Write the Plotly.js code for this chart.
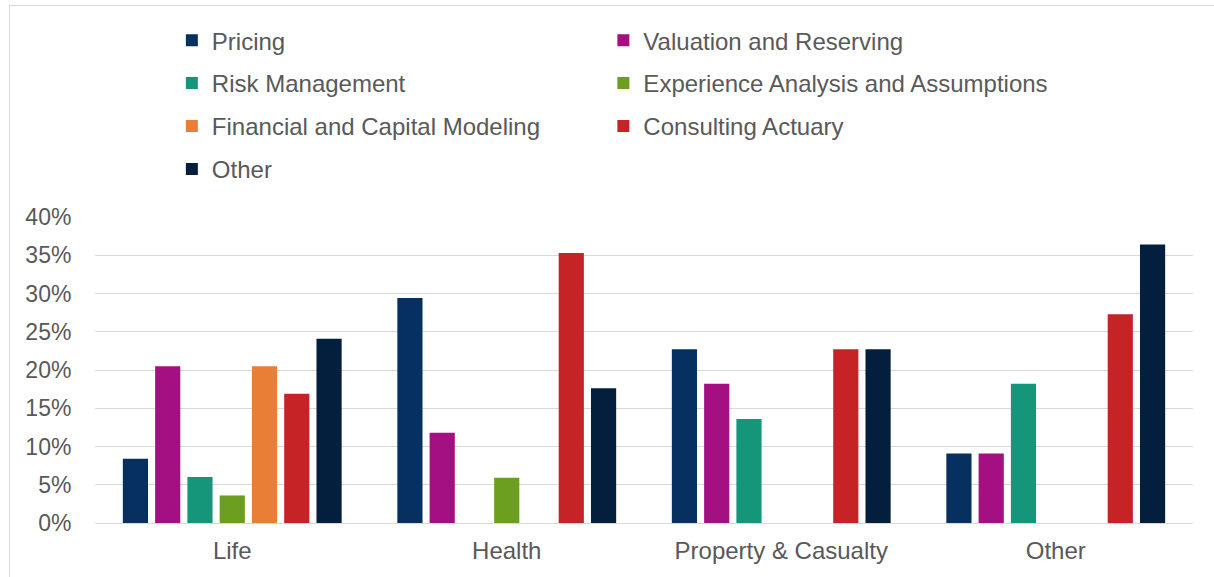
<!DOCTYPE html>
<html>
<head>
<meta charset="utf-8">
<script src="https://cdn.plot.ly/plotly-3.0.1.min.js"></script>
<style>
  html, body { margin: 0; padding: 0; background: #fff; }
  #wrap { position: relative; width: 1214px; height: 577px; overflow: hidden; }
  #chart { position: absolute; left: 0; top: 0; width: 1214px; height: 577px; }
  #frame { position: absolute; left: 9px; top: 5px; width: 1300px; height: 700px;
           border-left: 1px solid #d9d9d9; border-top: 1px solid #d9d9d9; pointer-events: none; }
</style>
</head>
<body>
<div id="wrap"><div id="chart"></div><div id="frame"></div></div>
<script>
const categories = ["Life", "Health", "Property & Casualty", "Other"];
const seriesNames = ["Pricing", "Valuation and Reserving", "Risk Management",
  "Experience Analysis and Assumptions", "Financial and Capital Modeling",
  "Consulting Actuary", "Other"];
const pricing     = [0.084, 0.294, 0.227, 0.091];
const valuation   = [0.205, 0.118, 0.182, 0.091];
const riskMgmt    = [0.060, null, 0.136, 0.182];
const experience  = [0.036, 0.059, null, null];
const financial   = [0.205, null, null, null];
const consulting  = [0.169, 0.353, 0.227, 0.273];
const otherRole   = [0.241, 0.176, 0.227, 0.364];
const colors = ["#06305f", "#a40f82", "#15967b", "#6c9e20", "#e97e37", "#c62326", "#041f3d"];
const legendOf = ["legend", "legend2", "legend", "legend2", "legend", "legend2", "legend"];

const values = [pricing, valuation, riskMgmt, experience, financial, consulting, otherRole];
const traces = seriesNames.map((name, i) => ({
  type: "bar", name: name, x: categories, y: values[i],
  marker: { color: colors[i], line: { width: 0 } },
  legend: legendOf[i], legendgroup: "g" + i,
  hovertemplate: "%{x}<br>" + name + ": %{y:.1%}<extra></extra>"
}));

const font = { family: "Liberation Sans, Arial, sans-serif", size: 24, color: "#595959" };
const yfont = { family: "Liberation Sans, Arial, sans-serif", size: 23, color: "#595959" };
const legendBase = {
  orientation: "v", font: font, bgcolor: "rgba(0,0,0,0)", tracegroupgap: 8.7,
  yanchor: "top", xanchor: "left", traceorder: "grouped", itemclick: false
};

const layout = {
  width: 1214, height: 577,
  margin: { l: 95, r: 21, t: 217, b: 54 },
  paper_bgcolor: "#fff", plot_bgcolor: "#fff",
  font: font,
  barmode: "group", bargap: 0.177, bargroupgap: 0.22,
  showlegend: true,
  legend: Object.assign({}, legendBase, { x: 0.070, y: 1.65 }),
  legend2: Object.assign({}, legendBase, { x: 0.463, y: 1.65 }),
  xaxis: {
    type: "category", showgrid: false, zeroline: false, showline: false,
    ticks: "outside", ticklen: 6, tickcolor: "rgba(0,0,0,0)",
    tickfont: font, fixedrange: true
  },
  yaxis: {
    range: [0, 0.4], dtick: 0.05, tickformat: ".0%",
    showgrid: true, gridcolor: "#d9d9d9", gridwidth: 1.3,
    zeroline: true, zerolinecolor: "#d9d9d9", zerolinewidth: 1.3,
    showline: false, ticks: "outside", ticklen: 18, tickcolor: "rgba(0,0,0,0)",
    tickfont: yfont, fixedrange: true
  }
};

Plotly.newPlot("chart", traces, layout, { displayModeBar: false });
</script>
</body>
</html>
